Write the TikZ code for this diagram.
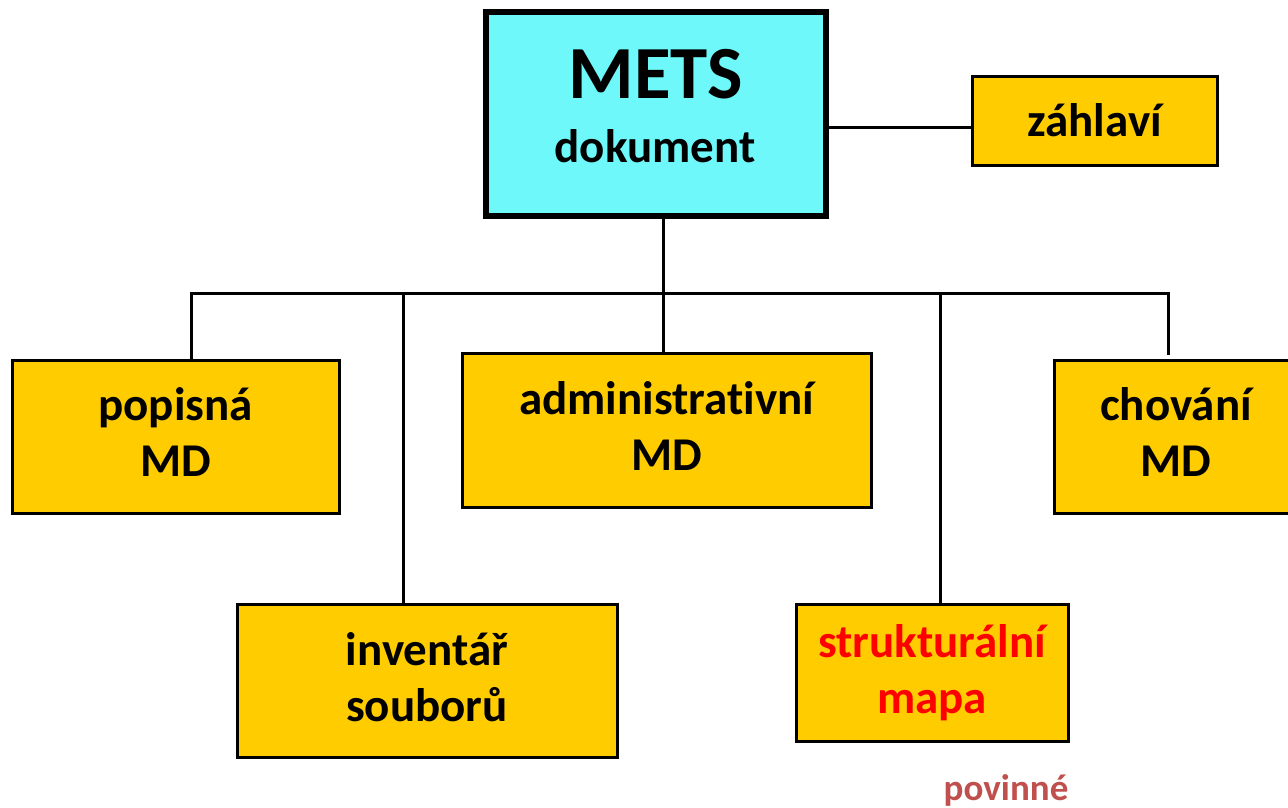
\documentclass[tikz,border=0pt]{standalone}
\usepackage{fontspec}
\setmainfont{Carlito}[Ligatures=NoCommon]
\definecolor{boxyellow}{HTML}{FFCC00}
\definecolor{metscyan}{HTML}{6FF8FA}
\definecolor{povred}{HTML}{C0504D}
\begin{document}
\begin{tikzpicture}[x=1pt,y=-1pt,
  ybox/.style={draw=black,line width=3pt,fill=boxyellow,inner sep=0pt,align=center,
    font=\fontsize{47}{56}\selectfont\bfseries},
  conn/.style={draw=black,line width=3pt}]
\useasboundingbox (0,0) rectangle (1288,807);
\clip (0,0) rectangle (1288,807);
\node[draw=black,line width=6pt,fill=metscyan,minimum width=340pt,minimum height=204pt,inner sep=0pt] (mets) at (655.5,113.5) {};
\node[font=\fontsize{75}{75}\selectfont\bfseries,anchor=base,inner sep=0pt] (metsT) at (656,98) {METS};
\node[font=\fontsize{47}{47}\selectfont\bfseries,anchor=base,inner sep=0pt] (metsD) at (655,162) {dokument};
\node[ybox,minimum width=245pt,minimum height=89pt] (zahl) at (1094.5,120.5) {záhlaví};
\node[ybox,minimum width=327pt,minimum height=153pt,text depth=8pt] (pop) at (175.5,436.5) {popisná\\MD};
\node[ybox,minimum width=409pt,minimum height=154pt,text depth=8pt] (adm) at (666.5,430) {administrativní\\MD};
\node[ybox,minimum width=244pt,minimum height=153pt,text depth=8pt] (chov) at (1176,436.5) {chování\\MD};
\node[ybox,minimum width=380pt,minimum height=153pt,text depth=8pt] (inv) at (427,680.5) {inventář\\souborů};
\node[ybox,minimum width=272pt,minimum height=137pt,text=red,text depth=8pt] (str) at (932,672.5) {strukturální\\mapa};
\node[font=\fontsize{37}{37}\selectfont\bfseries,text=povred,anchor=base,inner sep=0pt] (pov) at (1006,800) {povinné};
\coordinate (busL) at (191,293);
\coordinate (busR) at (1168,293);
\coordinate (busM) at (663,293);
\coordinate (chovEnd) at (1168,353);
\coordinate (zrow) at (0,127);
\draw[conn] (mets.east |- zrow) -- (zahl.west |- zrow);
\draw[conn] (mets.south -| busM) -- (busM) -- (adm.north -| busM);
\draw[conn,line cap=rect] (pop.north -| busL) -- (busL) -- (busR) -- (chovEnd);
\coordinate (invTop) at (403,293);
\draw[conn] (invTop) -- (invTop |- inv.north);
\coordinate (strTop) at (940,293);
\draw[conn] (strTop) -- (strTop |- str.north);
\end{tikzpicture}
\end{document}
